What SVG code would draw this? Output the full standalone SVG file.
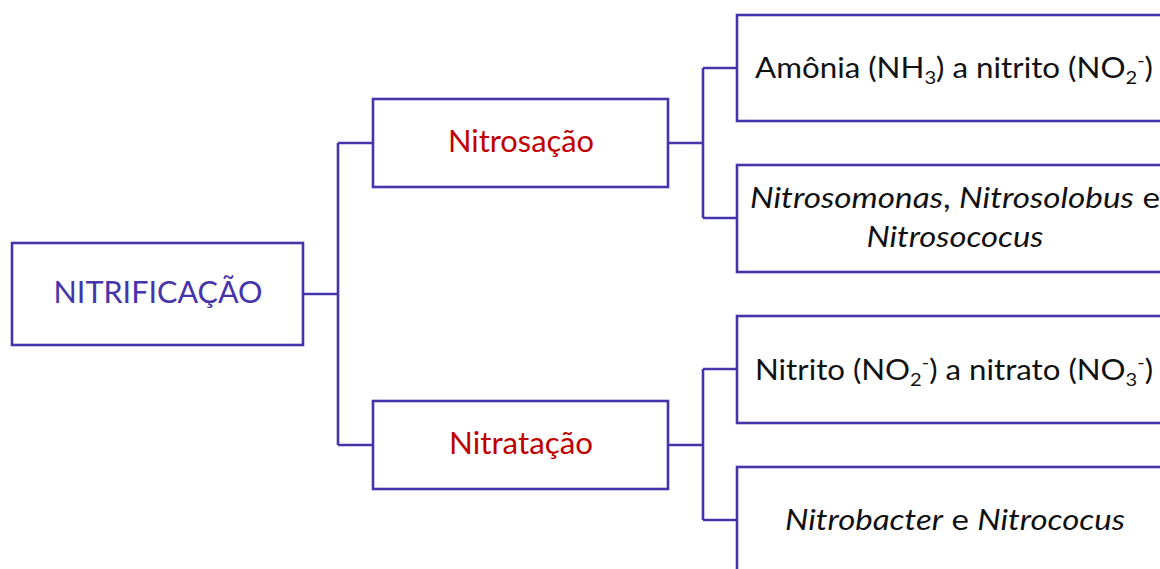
<svg xmlns="http://www.w3.org/2000/svg" width="1160" height="569" viewBox="0 0 1160 569">
<style>
.box{fill:#fff;stroke:#4535AB;stroke-width:2.6}
.con{fill:none;stroke:#4535AB;stroke-width:2.6}
.t{font-family:Lato,"Open Sans","Liberation Sans",sans-serif;font-size:28px;text-anchor:middle}
.big{font-size:30px}
.main{fill:#4535AB}
.red{fill:#C00000}
.blk{fill:#111}
.sub{font-size:18px}
</style>
<rect width="1160" height="569" fill="#fff"/>
<g id="connectors">
<path class="con" d="M303,294 H338 M338,143 V445 M338,143 H373 M338,445 H373"/>
<path class="con" d="M668,143 H703 M703,68 V218 M703,68 H737 M703,218 H737"/>
<path class="con" d="M668,445 H703 M703,369 V520 M703,369 H737 M703,520 H737"/>
</g>
<g id="nitrificacao">
<rect class="box" x="12" y="243" width="291" height="102"/>
<text class="t big main" x="158" y="303" textLength="209" lengthAdjust="spacingAndGlyphs">NITRIFICAÇÃO</text>
</g>
<g id="nitrosacao">
<rect class="box" x="373" y="99" width="295" height="88"/>
<text class="t big red" x="521" y="152" textLength="146" lengthAdjust="spacingAndGlyphs">Nitrosação</text>
</g>
<g id="nitratacao">
<rect class="box" x="373" y="401" width="295" height="88"/>
<text class="t big red" x="521" y="454" textLength="144" lengthAdjust="spacingAndGlyphs">Nitratação</text>
</g>
<g id="amonia">
<rect class="box" x="737" y="15" width="440" height="106"/>
<text class="t blk" x="954" y="78" textLength="398" lengthAdjust="spacingAndGlyphs">Amônia (NH<tspan class="sub" dy="6">3</tspan><tspan dy="-6">) a nitrito (NO</tspan><tspan class="sub" dy="6">2</tspan><tspan class="sub" dy="-17">-</tspan><tspan dy="11">)</tspan></text>
</g>
<g id="nitrosomonas">
<rect class="box" x="737" y="165" width="440" height="107"/>
<text class="t blk" x="955" y="208" textLength="410" lengthAdjust="spacingAndGlyphs"><tspan font-style="italic">Nitrosomonas</tspan>, <tspan font-style="italic">Nitrosolobus</tspan> e</text>
<text class="t blk" x="955" y="247" font-style="italic" textLength="177" lengthAdjust="spacingAndGlyphs">Nitrosococus</text>
</g>
<g id="nitrito">
<rect class="box" x="737" y="316" width="440" height="107"/>
<text class="t blk" x="954" y="380" textLength="398" lengthAdjust="spacingAndGlyphs">Nitrito (NO<tspan class="sub" dy="6">2</tspan><tspan class="sub" dy="-17">-</tspan><tspan dy="11">) a nitrato (NO</tspan><tspan class="sub" dy="6">3</tspan><tspan class="sub" dy="-17">-</tspan><tspan dy="11">)</tspan></text>
</g>
<g id="nitrobacter">
<rect class="box" x="737" y="467" width="440" height="120"/>
<text class="t blk" x="955" y="530" textLength="340" lengthAdjust="spacingAndGlyphs"><tspan font-style="italic">Nitrobacter</tspan> e <tspan font-style="italic">Nitrococus</tspan></text>
</g>
</svg>
